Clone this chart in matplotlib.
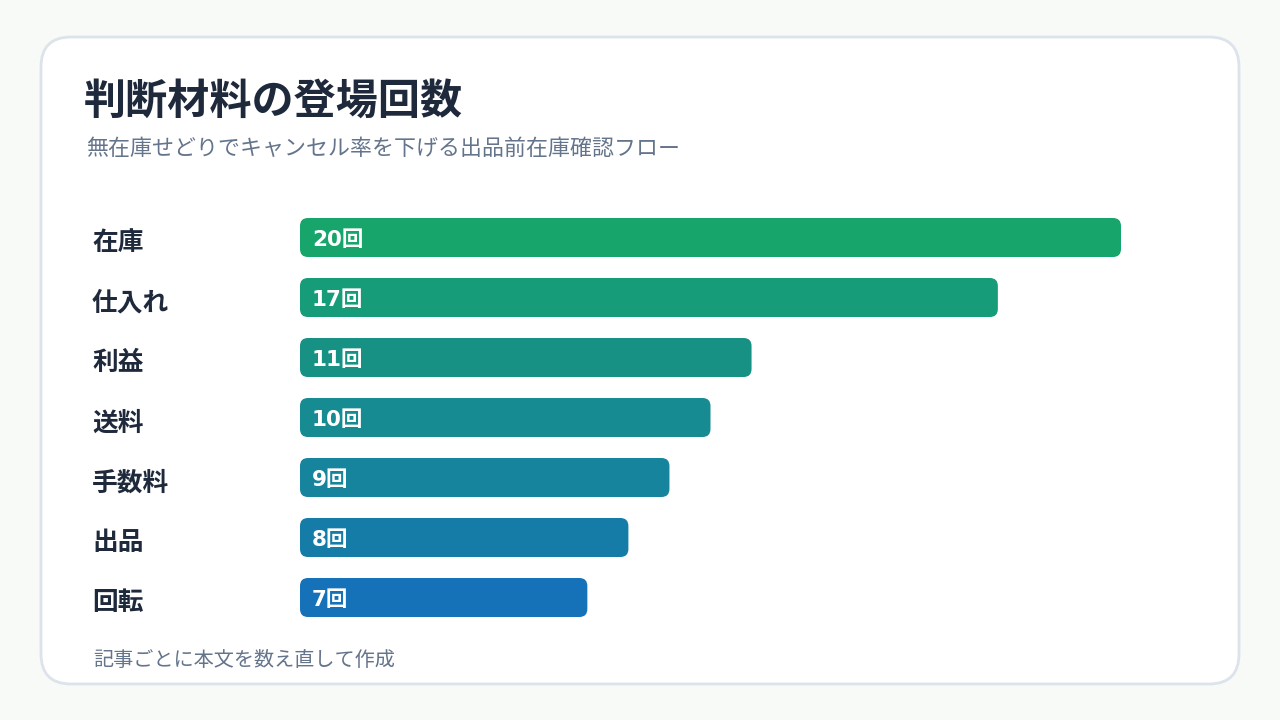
import matplotlib.pyplot as plt
from matplotlib.patches import FancyBboxPatch

plt.rcParams['font.family'] = ['Noto Sans CJK JP', 'DejaVu Sans']

title = '判断材料の登場回数'
subtitle = '無在庫せどりでキャンセル率を下げる出品前在庫確認フロー'
footer = '記事ごとに本文を数え直して作成'

categories = ['在庫', '仕入れ', '利益', '送料', '手数料', '出品', '回転']
counts = [20, 17, 11, 10, 9, 8, 7]
bar_colors = ['#18a56c', '#169c79', '#169184', '#168b91', '#15849c',
              '#157ca8', '#1572b8']

W, H = 1280, 720
fig = plt.figure(figsize=(12.8, 7.2), dpi=100)
fig.patch.set_facecolor('#f8faf8')

# background card in pixel coords
bg = fig.add_axes([0, 0, 1, 1])
bg.set_xlim(0, W)
bg.set_ylim(H, 0)
bg.axis('off')
card = FancyBboxPatch((41, 37), 1198, 647,
                      boxstyle='round,pad=0,rounding_size=30',
                      facecolor='white', edgecolor='#dde3ea', linewidth=2)
bg.add_patch(card)

bg.text(84, 102, title, fontsize=30.3, fontweight='bold', color='#1e293b',
        va='center', ha='left')
bg.text(86, 149, subtitle, fontsize=15.8, color='#64748b', va='center', ha='left')
bg.text(93, 661, footer, fontsize=14.5, color='#64748b', va='center', ha='left')

# bar area: 20 units -> 821 px, rows every 60 px
x0, x1 = 300, 1121
y_top, y_bot = 207.5, 627.5
ax = fig.add_axes([x0 / W, 1 - y_bot / H, (x1 - x0) / W, (y_bot - y_top) / H])
ax.set_xlim(0, max(counts))
ax.set_ylim(len(categories) - 0.5, -0.5)
ax.axis('off')

px_x = (x1 - x0) / max(counts)
px_y = (y_bot - y_top) / len(categories)
bar_h = 39 / px_y
r = 8 / px_x
for i, (cat, v, c) in enumerate(zip(categories, counts, bar_colors)):
    p = FancyBboxPatch((0, i - bar_h / 2), v, bar_h,
                       boxstyle=f'round,pad=0,rounding_size={r}',
                       mutation_aspect=px_x / px_y,
                       facecolor=c, edgecolor='none')
    ax.add_patch(p)
    ax.text(12 / px_x, i + 0.04, f'{v}回', color='white', fontsize=15.5,
            fontweight='bold', va='center', ha='left',
            family=['DejaVu Sans', 'Noto Sans CJK JP'])
    ax.text(-(x0 - 92) / px_x, i + 0.09, cat, color='#1e293b', fontsize=18.5,
            fontweight='bold', va='center', ha='left', clip_on=False)

fig.savefig('out.png', dpi=100, facecolor=fig.get_facecolor())
